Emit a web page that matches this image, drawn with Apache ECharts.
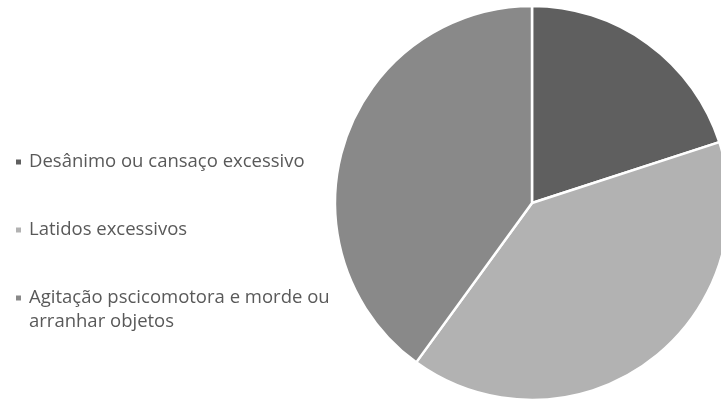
<!DOCTYPE html>
<html>
<head>
<meta charset="utf-8">
<script src="https://cdn.jsdelivr.net/npm/echarts@6/dist/echarts.min.js"></script>
<style>
  html, body { margin: 0; padding: 0; background: #fff; }
  #chart { width: 721px; height: 401px; }
</style>
</head>
<body>
<div id="chart"></div>
<script>
var categories = ['Desânimo ou cansaço excessivo', 'Latidos excessivos', 'Agitação pscicomotora e morde ou arranhar objetos']
var legendLabels = ['Desânimo ou cansaço excessivo', 'Latidos excessivos', '\nAgitação pscicomotora e morde ou\narranhar objetos']
var values = [20, 40, 40]
var colors = ['#5f5f5f', '#b2b2b2', '#898989']

var chart = echarts.init(document.getElementById('chart'))

function makeLegend (i, top) {
  return {
    orient: 'vertical',
    left: 14,
    top: top,
    padding: 0,
    icon: 'rect',
    itemWidth: 7,
    itemHeight: 7,
    itemGap: 0,
    selectedMode: false,
    data: [categories[i]],
    formatter: function () { return legendLabels[i] },
    textStyle: {
      fontFamily: 'Open Sans',
      fontSize: 18.5,
      color: '#595959',
      lineHeight: 24,
      padding: [0, 0, 0, 2]
    }
  }
}

chart.setOption({
  animation: false,
  color: colors,
  legend: [
    makeLegend(0, 150),
    makeLegend(1, 218),
    makeLegend(2, 262)
  ],
  series: [{
    type: 'pie',
    center: [532, 203],
    radius: 197,
    startAngle: 90,
    clockwise: true,
    label: { show: false },
    labelLine: { show: false },
    itemStyle: { borderColor: '#fff', borderWidth: 2.5 },
    emphasis: { disabled: true },
    data: categories.map(function (name, i) {
      return { name: name, value: values[i] }
    })
  }]
})
</script>
</body>
</html>
